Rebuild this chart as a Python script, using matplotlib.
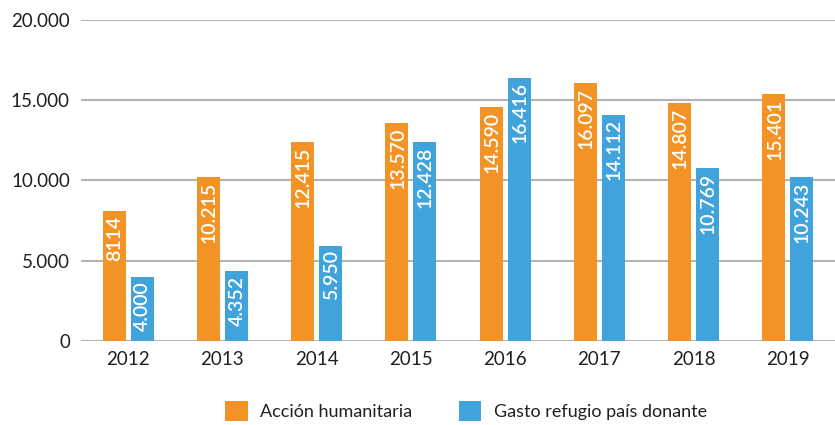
import matplotlib
matplotlib.use("Agg")
import matplotlib.pyplot as plt
from matplotlib import font_manager
import numpy as np

years = ["2012", "2013", "2014", "2015", "2016", "2017", "2018", "2019"]
accion = [8114, 10215, 12415, 13570, 14590, 16097, 14807, 15401]
gasto = [4000, 4352, 5950, 12428, 16416, 14112, 10769, 10243]
accion_labels = ["8114", "10.215", "12.415", "13.570", "14.590", "16.097", "14.807", "15.401"]
gasto_labels = ["4.000", "4.352", "5.950", "12.428", "16.416", "14.112", "10.769", "10.243"]
yticks = [0, 5000, 10000, 15000, 20000]
ytick_labels = ["0", "5.000", "10.000", "15.000", "20.000"]
series_names = ["Acción humanitaria", "Gasto refugio país donante"]

avail = {f.name for f in font_manager.fontManager.ttflist}
fam = [f for f in ["Lato", "Open Sans", "DejaVu Sans"] if f in avail]
plt.rcParams['font.family'] = fam

orange = "#F39325"
blue = "#41A3DC"
txt = "#231F20"

fig = plt.figure(figsize=(8.35, 4.25), dpi=100)
ax = fig.add_axes([81/835, 1-341/425, 1-81/835, (341-20)/425])

x = np.arange(len(years))
w = 0.245
off = 0.148
b1 = ax.bar(x - off, accion, w, color=orange, label=series_names[0], zorder=3)
b2 = ax.bar(x + off, gasto, w, color=blue, label=series_names[1], zorder=3)

for bars, labs in ((b1, accion_labels), (b2, gasto_labels)):
    for r, lab in zip(bars, labs):
        ax.annotate(lab, (r.get_x() + r.get_width()/2, r.get_height()),
                    xytext=(0.5, -3.5), textcoords="offset points",
                    rotation=90, ha="center", va="top", color="white",
                    fontsize=14, fontweight="semibold", zorder=4)

ax.set_xlim(-0.5, len(years) - 0.5)
ax.set_ylim(0, 20000)
ax.set_yticks(yticks)
ax.set_yticklabels(ytick_labels)
ax.set_xticks(x)
ax.set_xticklabels(years)
ax.tick_params(axis="both", length=0, labelsize=13.5, colors=txt)
ax.tick_params(axis="y", pad=8)
ax.tick_params(axis="x", pad=7)
ax.grid(axis="y", color="#B3B3B3", linewidth=1.5, zorder=0)
for s in ax.spines.values():
    s.set_visible(False)

leg = fig.legend(handles=[b1, b2], labels=series_names, loc="center",
                 bbox_to_anchor=(466/835, 1-411/425), ncol=2, frameon=False,
                 fontsize=13, handlelength=1.25, handleheight=1.25,
                 columnspacing=2.55, handletextpad=0.7)
for t in leg.get_texts():
    t.set_color(txt)

fig.savefig("out.png", dpi=100)
